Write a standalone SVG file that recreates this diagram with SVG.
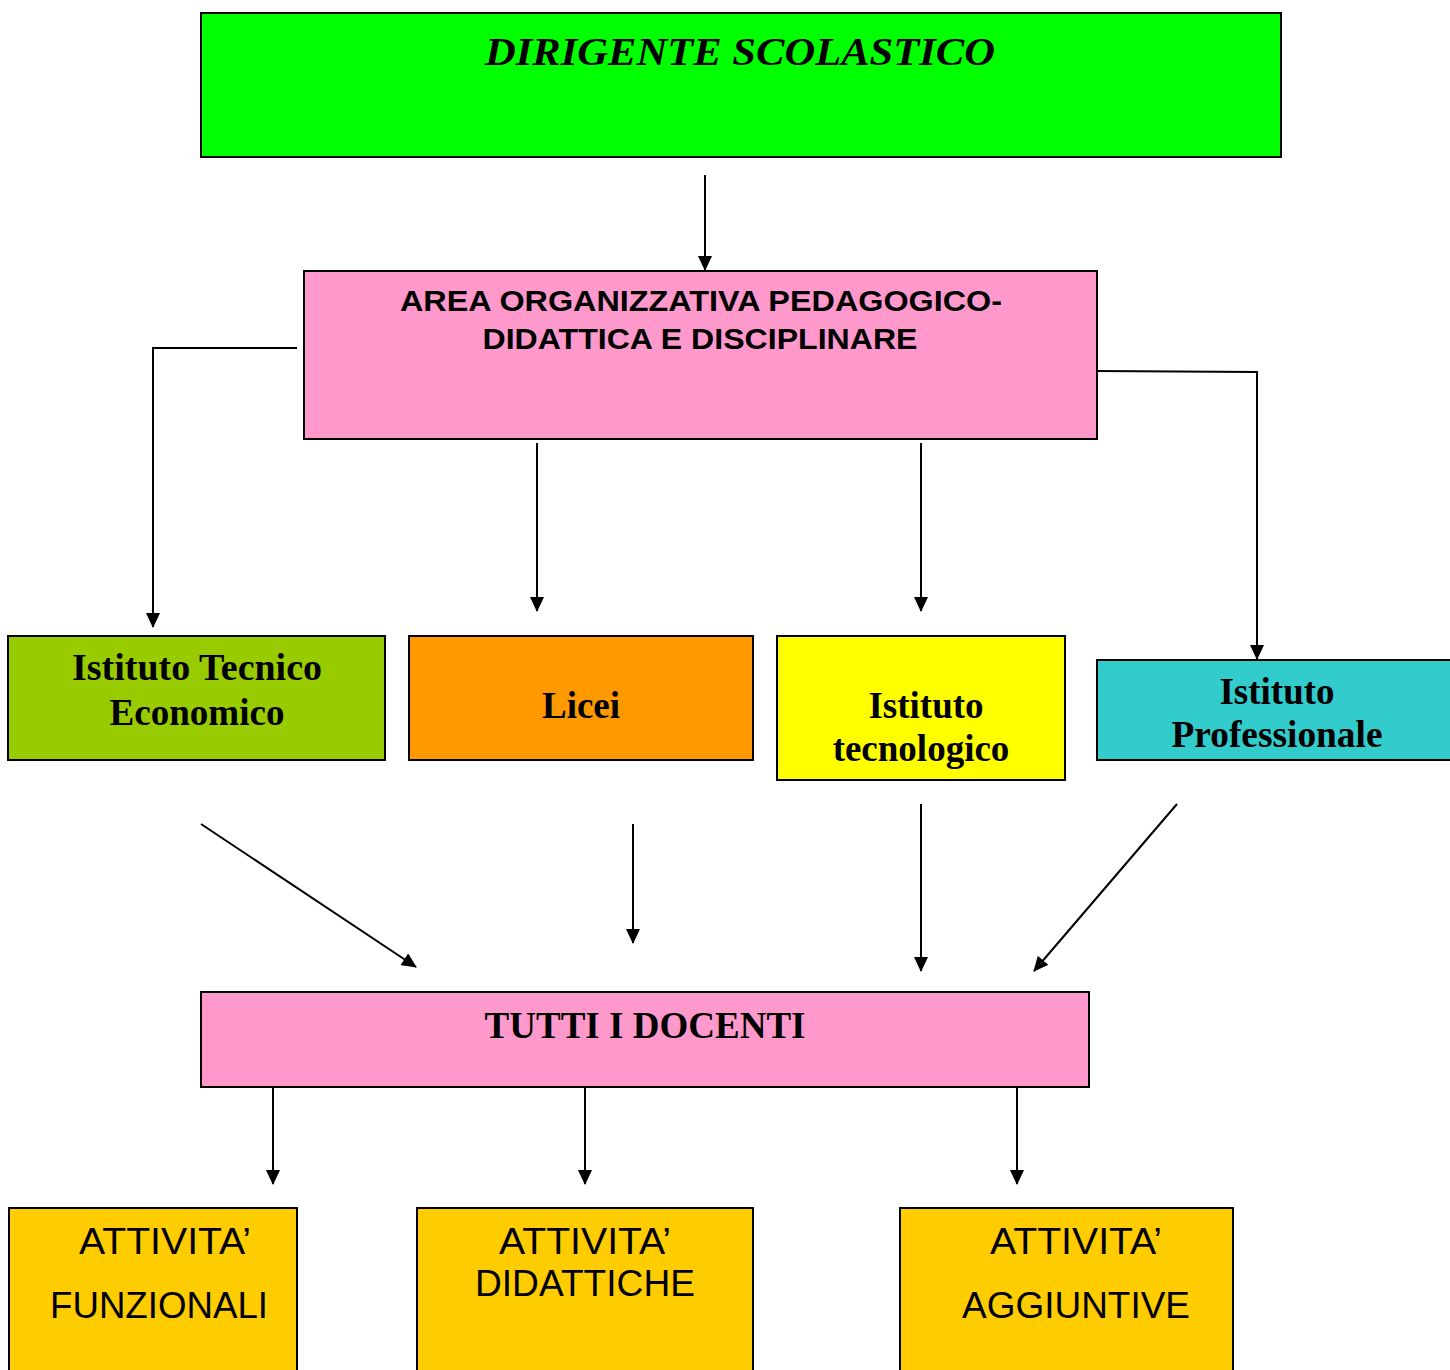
<svg xmlns="http://www.w3.org/2000/svg" width="1450" height="1370" viewBox="0 0 1450 1370">
<style>
.box{stroke:#000;stroke-width:2}
.serif{font-family:"Liberation Serif","Times New Roman",serif;font-weight:bold;fill:#000;text-anchor:middle}
.sans{font-family:"Liberation Sans",Arial,sans-serif;fill:#000;text-anchor:middle}
.conn line,.conn polyline{stroke:#000;stroke-width:2;fill:none;marker-end:url(#ah)}
</style>
<defs>
<marker id="ah" viewBox="0 0 15 14" refX="14" refY="7" markerWidth="15" markerHeight="14" markerUnits="userSpaceOnUse" orient="auto">
<path d="M0,0 L15,7 L0,14 Z" fill="#000"/>
</marker>
</defs>
<rect width="1450" height="1370" fill="#fff"/>
<g id="dirigente">
<rect class="box" x="201" y="13" width="1080" height="144" fill="#00FF00"/>
<text class="serif" x="740" y="65" font-size="40" font-style="italic" textLength="510" lengthAdjust="spacingAndGlyphs">DIRIGENTE SCOLASTICO</text>
</g>
<g id="area">
<rect class="box" x="304" y="271" width="793" height="168" fill="#FF99CC"/>
<text class="sans" x="701" y="311" font-size="29" font-weight="bold" textLength="602" lengthAdjust="spacingAndGlyphs">AREA ORGANIZZATIVA PEDAGOGICO-</text>
<text class="sans" x="700" y="349" font-size="29" font-weight="bold" textLength="435" lengthAdjust="spacingAndGlyphs">DIDATTICA E DISCIPLINARE</text>
</g>
<g id="tecnico-economico">
<rect class="box" x="8" y="636" width="377" height="124" fill="#99CC00"/>
<text class="serif" x="197" y="680" font-size="37" textLength="250" lengthAdjust="spacingAndGlyphs">Istituto Tecnico</text>
<text class="serif" x="197" y="725" font-size="37" textLength="175" lengthAdjust="spacingAndGlyphs">Economico</text>
</g>
<g id="licei">
<rect class="box" x="409" y="636" width="344" height="124" fill="#FF9900"/>
<text class="serif" x="581" y="718" font-size="37">Licei</text>
</g>
<g id="tecnologico">
<rect class="box" x="777" y="636" width="288" height="144" fill="#FFFF00"/>
<text class="serif" x="926" y="718" font-size="37">Istituto</text>
<text class="serif" x="921" y="761" font-size="37">tecnologico</text>
</g>
<g id="professionale">
<rect class="box" x="1097" y="660" width="360" height="100" fill="#33CCCC"/>
<text class="serif" x="1277" y="704" font-size="37">Istituto</text>
<text class="serif" x="1277" y="747" font-size="37" textLength="211" lengthAdjust="spacingAndGlyphs">Professionale</text>
</g>
<g id="docenti">
<rect class="box" x="201" y="992" width="888" height="95" fill="#FF99CC"/>
<text class="serif" x="645" y="1038" font-size="37" textLength="321" lengthAdjust="spacingAndGlyphs">TUTTI I DOCENTI</text>
</g>
<g id="funzionali">
<rect class="box" x="9" y="1208" width="288" height="180" fill="#FFCC00"/>
<text class="sans" x="165" y="1254" font-size="37" textLength="172" lengthAdjust="spacingAndGlyphs">ATTIVITA’</text>
<text class="sans" x="159" y="1318" font-size="37" textLength="218" lengthAdjust="spacingAndGlyphs">FUNZIONALI</text>
</g>
<g id="didattiche">
<rect class="box" x="417" y="1208" width="336" height="180" fill="#FFCC00"/>
<text class="sans" x="585" y="1254" font-size="37" textLength="172" lengthAdjust="spacingAndGlyphs">ATTIVITA’</text>
<text class="sans" x="585" y="1296" font-size="37" textLength="220" lengthAdjust="spacingAndGlyphs">DIDATTICHE</text>
</g>
<g id="aggiuntive">
<rect class="box" x="900" y="1208" width="333" height="180" fill="#FFCC00"/>
<text class="sans" x="1076" y="1254" font-size="37" textLength="172" lengthAdjust="spacingAndGlyphs">ATTIVITA’</text>
<text class="sans" x="1076" y="1318" font-size="37" textLength="228" lengthAdjust="spacingAndGlyphs">AGGIUNTIVE</text>
</g>
<g id="connectors" class="conn">
<line x1="705" y1="175" x2="705" y2="270"/>
<polyline points="297,348 153,348 153,627"/>
<line x1="537" y1="443" x2="537" y2="611"/>
<line x1="921" y1="443" x2="921" y2="611"/>
<polyline points="1097,371 1257,372 1257,659"/>
<line x1="201" y1="824" x2="416" y2="967"/>
<line x1="633" y1="824" x2="633" y2="943"/>
<line x1="921" y1="804" x2="921" y2="971"/>
<line x1="1177" y1="804" x2="1034" y2="971"/>
<line x1="273" y1="1088" x2="273" y2="1184"/>
<line x1="585" y1="1088" x2="585" y2="1184"/>
<line x1="1017" y1="1088" x2="1017" y2="1184"/>
</g>
</svg>
